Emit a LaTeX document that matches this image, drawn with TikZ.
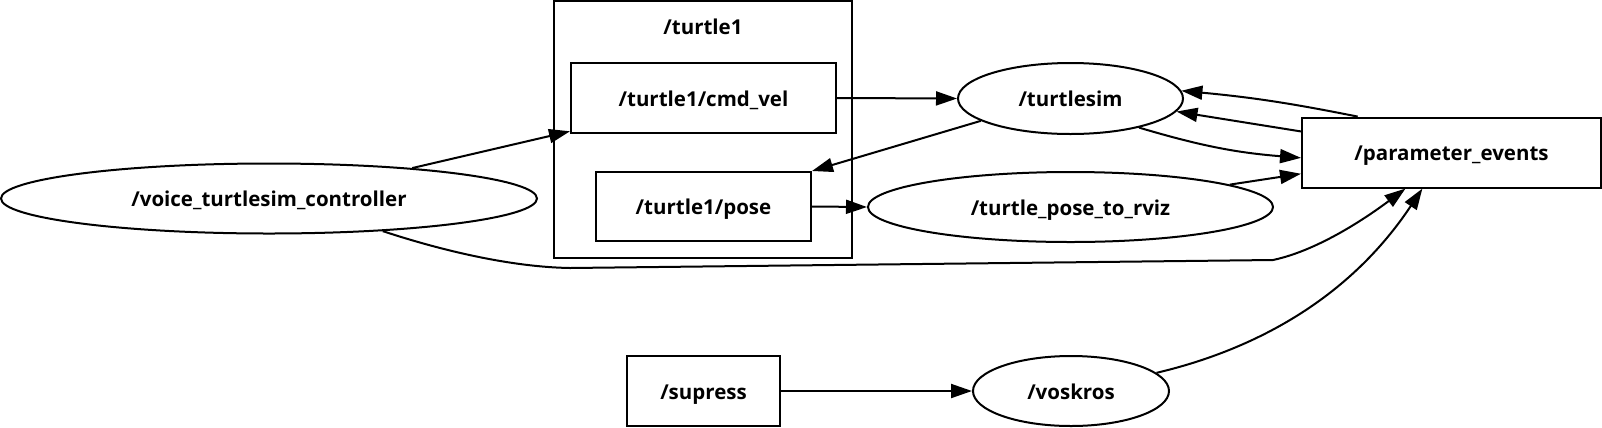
\documentclass[tikz,border=0pt]{standalone}
\usepackage{fontspec}
\setmainfont{Open Sans}
\usetikzlibrary{arrows.meta,shapes.geometric}
\tikzset{
  lbl/.style={font=\bfseries\fontsize{20.5bp}{24bp}\selectfont},
  inlbl/.style={lbl, text height=16bp, text depth=0bp},
  topicbox/.style={draw, line width=2bp, rectangle, inner sep=0pt, inlbl},
  nodeell/.style={draw, line width=2bp, ellipse, inner sep=0pt, inlbl},
  arr/.style={-{Triangle[length=21bp,width=14bp]}, line width=2bp},
}
\begin{document}
\begin{tikzpicture}[x=1bp,y=-1bp]
\useasboundingbox (0,0) rectangle (1602,427);
% cluster
\node[draw, line width=2bp, rectangle, inner sep=0pt, minimum width=298bp, minimum height=257bp] (cluster) at (703,129.5) {};
\node[lbl] (clusterlbl) at (703,27) {/turtle1};
% topics
\node[topicbox, minimum width=265bp, minimum height=70bp] (cmdvel) at (703.5,98) {/turtle1/cmd\_vel};
\node[topicbox, minimum width=215bp, minimum height=69bp] (pose) at (703.5,206.5) {/turtle1/pose};
\node[topicbox, minimum width=299bp, minimum height=70bp] (param) at (1451.5,152.6) {/parameter\_events};
\node[topicbox, minimum width=153bp, minimum height=70bp] (supress) at (703.5,391) {/supress};
% ros nodes
\node[nodeell, minimum width=536bp, minimum height=70bp] (voice) at (269,198.5) {/voice\_turtlesim\_controller};
\node[nodeell, minimum width=225bp, minimum height=71bp] (turtlesim) at (1070.5,98.5) {/turtlesim};
\node[nodeell, minimum width=405bp, minimum height=70bp] (rviz) at (1070.5,207) {/turtle\_pose\_to\_rviz};
\node[nodeell, minimum width=196bp, minimum height=70bp] (voskros) at (1071,391) {/voskros};
% edges
\draw[arr] (voice.12.8) -- (cmdvel.194);
\draw[arr] (cmdvel.east) -- (turtlesim.west);
\draw[arr] (turtlesim.194) -- (pose.north east);
\draw[arr] (pose.east) -- (rviz.west);
\draw[arr] (turtlesim.-23) to[bend right=6] (param.182);
\draw[arr] (rviz.8) -- (param.188);
\draw[arr] (param.159) to[bend right=3] (turtlesim.4);
\draw[arr] (param.172) -- (turtlesim.-7.5);
\draw[arr] (voice.-16) .. controls (440,250) and (510,267) .. (570,268) -- (1273,260) .. controls (1320,250) and (1370,215) .. (param.218);
\draw[arr] (voskros.12) .. controls (1245,352) and (1345,305) .. (param.231);
\draw[arr] (supress.east) -- (voskros.west);
\end{tikzpicture}
\end{document}
